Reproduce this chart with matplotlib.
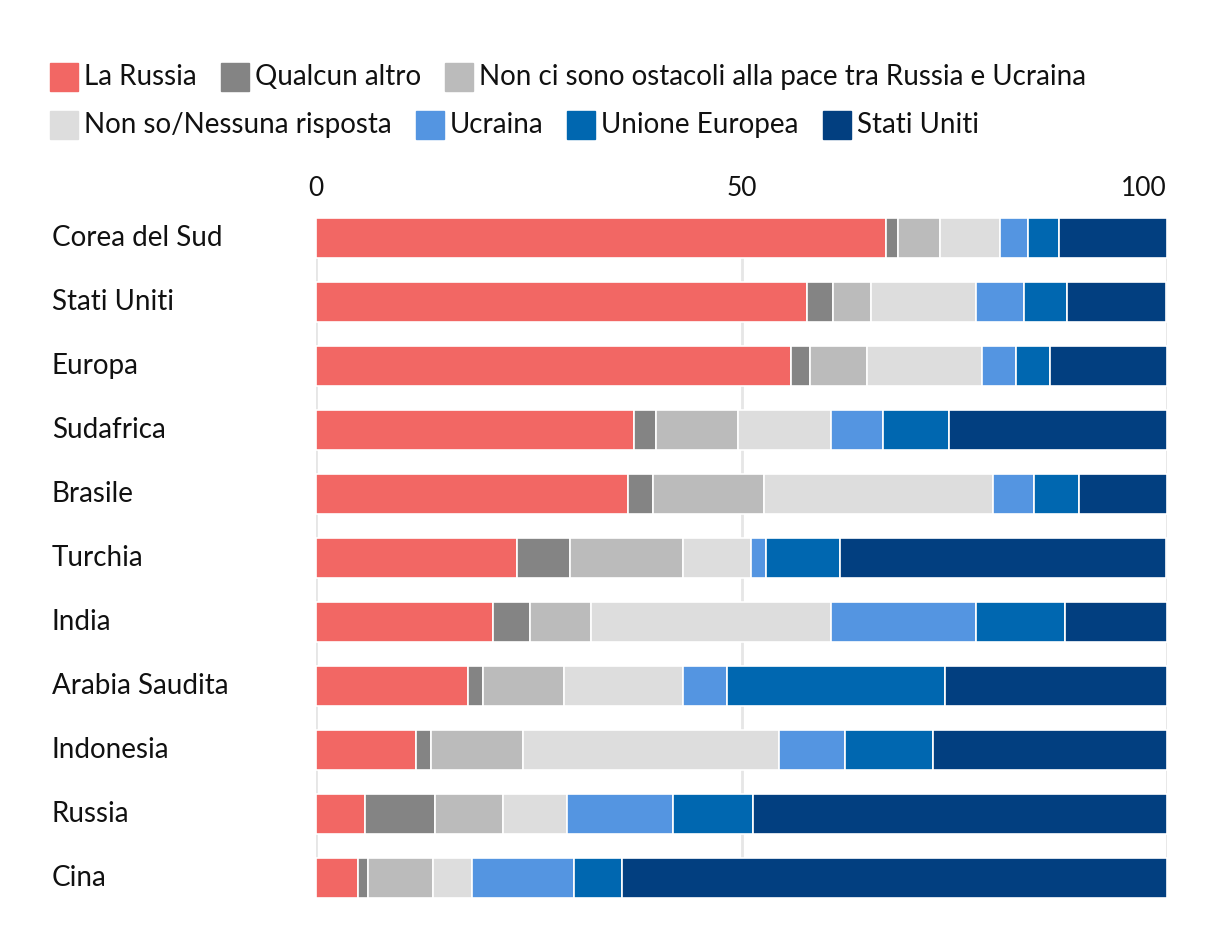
import numpy as np
import matplotlib.pyplot as plt
from matplotlib.patches import Rectangle
from matplotlib.transforms import blended_transform_factory

countries = ['Corea del Sud', 'Stati Uniti', 'Europa', 'Sudafrica', 'Brasile', 'Turchia',
             'India', 'Arabia Saudita', 'Indonesia', 'Russia', 'Cina']

series_names = ['La Russia', 'Qualcun altro', 'Non ci sono ostacoli alla pace tra Russia e Ucraina',
                'Non so/Nessuna risposta', 'Ucraina', 'Unione Europea', 'Stati Uniti']

la_russia = [67.0, 57.7, 55.8, 37.4, 36.7, 23.6, 20.8, 17.9, 11.7, 5.8, 4.9]
qualcun_altro = [1.4, 3.0, 2.3, 2.6, 2.9, 6.3, 4.4, 1.7, 1.8, 8.2, 1.2]
nessun_ostacolo = [4.9, 4.5, 6.6, 9.6, 13.1, 13.2, 7.1, 9.6, 10.8, 8.0, 7.7]
non_so = [7.1, 12.4, 13.6, 10.9, 26.9, 8.0, 28.2, 13.9, 30.1, 7.5, 4.5]
ucraina = [3.3, 5.6, 4.0, 6.1, 4.8, 1.8, 17.0, 5.2, 7.8, 12.4, 12.0]
unione_europea = [3.6, 5.0, 4.0, 7.8, 5.3, 8.7, 10.5, 25.6, 10.3, 9.4, 5.6]
stati_uniti = [12.7, 11.7, 13.7, 25.6, 10.3, 38.3, 12.0, 26.1, 27.5, 48.7, 64.1]

colors = ['#F26764', '#848484', '#BBBBBB', '#DDDDDD', '#5495E1', '#0067B0', '#023F80']

FONT = ['Lato', 'DejaVu Sans']
plt.rcParams['font.family'] = FONT

BAR_H = 0.625
fig = plt.figure(figsize=(12.2, 9.5), dpi=100)
ax = fig.add_axes([316 / 1220, 1 - 897.5 / 950, 851 / 1220, (897.5 - 218) / 950])

data = [la_russia, qualcun_altro, nessun_ostacolo, non_so, ucraina, unione_europea, stati_uniti]
y = np.arange(len(countries))
left = np.zeros(len(countries))
for vals, col, name in zip(data, colors, series_names):
    vals = np.array(vals)
    ax.barh(y, vals, left=left, height=BAR_H, color=col, edgecolor='white',
            linewidth=1.2, label=name, zorder=3)
    left += vals

ax.set_xlim(0, 100)
ax.set_ylim(len(countries) - 1 + BAR_H / 2, -BAR_H / 2)
ax.set_xticks([0, 50, 100])
ax.xaxis.tick_top()
ax.tick_params(axis='x', length=0, labelsize=19, pad=12, colors='#111111')
ax.get_xticklabels()[-1].set_ha('right')
ax.grid(axis='x', color='#E6E6E6', linewidth=2, zorder=0)
for s in ax.spines.values():
    s.set_visible(False)

ax.set_yticks([])
trans = blended_transform_factory(fig.transFigure, ax.transData)
for i, c in enumerate(countries):
    fig.text(52 / 1220, i, c, transform=trans, ha='left', va='center',
             fontsize=20, color='#111111')

# legend laid out in two rows
fig.canvas.draw()
renderer = fig.canvas.get_renderer()
rows = [[0, 1, 2], [3, 4, 5, 6]]
row_y = [77, 125]
sq = 28
for r, idxs in enumerate(rows):
    x = 50
    yc = row_y[r]
    for i in idxs:
        fig.patches.append(Rectangle((x / 1220, 1 - (yc + sq / 2) / 950), sq / 1220, sq / 950,
                                     transform=fig.transFigure, color=colors[i]))
        t = fig.text((x + sq + 6) / 1220, 1 - yc / 950, series_names[i], ha='left',
                     va='center', fontsize=20, color='#111111')
        w = t.get_window_extent(renderer).width
        x += sq + 6 + w + 24

fig.savefig('out.png', dpi=100)
